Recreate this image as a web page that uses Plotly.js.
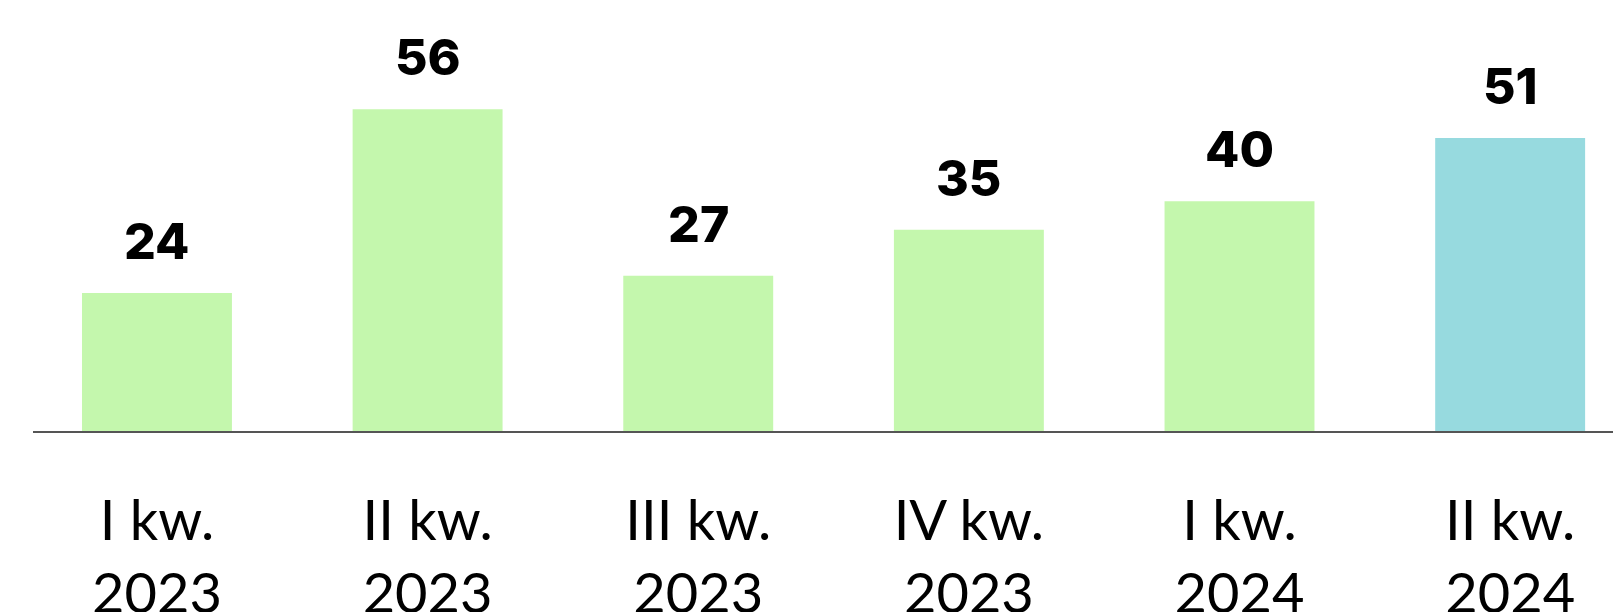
<!DOCTYPE html>
<html>
<head>
<meta charset="utf-8">
<script src="https://cdn.plot.ly/plotly-3.0.1.min.js"></script>
<style>html,body{margin:0;padding:0;background:#fff;}#chart{width:1613px;height:612px;}</style>
</head>
<body>
<div id="chart"></div>
<script>
const categories = ['I kw.<br>2023', 'II kw.<br>2023', 'III kw.<br>2023', 'IV kw.<br>2023', 'I kw.<br>2024', 'II kw.<br>2024'];
const values = [24, 56, 27, 35, 40, 51];
const barColors = ['#C4F7AD', '#C4F7AD', '#C4F7AD', '#C4F7AD', '#C4F7AD', '#97DADF'];

const trace = {
  type: 'bar',
  x: categories,
  y: values,
  width: 0.554,
  marker: {color: barColors},
  hoverinfo: 'none'
};

const annotations = categories.map((c, i) => ({
  x: c, y: values[i], xref: 'x', yref: 'y',
  text: String(values[i]),
  showarrow: false, yanchor: 'bottom', yshift: 20,
  font: {family: 'Inter', size: 50, color: '#000', weight: 800}
}));

const layout = {
  width: 1613, height: 612,
  margin: {l: 33, r: 0, t: 0, b: 181},
  paper_bgcolor: '#fff', plot_bgcolor: '#fff',
  showlegend: false,
  xaxis: {
    type: 'category',
    range: [-0.458, 5.38],
    showline: true, linecolor: '#555', linewidth: 2,
    ticks: '', showgrid: false, zeroline: false,
    ticklabelstandoff: 40,
    tickfont: {family: 'Lato', size: 56, color: '#000', weight: 400}
  },
  yaxis: {range: [0, 75.0], visible: false, showgrid: false, zeroline: false},
  annotations: annotations
};

Plotly.newPlot('chart', [trace], layout, {displayModeBar: false, staticPlot: true});
</script>
</body>
</html>
